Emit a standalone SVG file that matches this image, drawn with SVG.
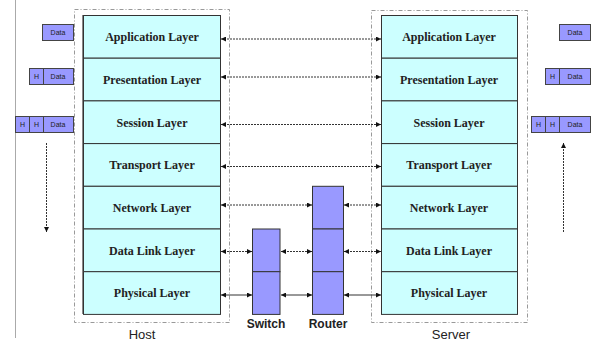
<svg xmlns="http://www.w3.org/2000/svg" width="592" height="343" viewBox="0 0 592 343">
<style>
.layer{fill:#ccffff;stroke:#333;stroke-width:1}
.lt{font-family:"Liberation Serif",serif;font-weight:bold;font-size:12px;fill:#222;text-anchor:middle}
.dev{fill:#9999ff;stroke:#333;stroke-width:1}
.nt{font-family:"Liberation Sans",sans-serif;font-weight:bold;font-size:12px;fill:#222;text-anchor:middle}
.frame{fill:none;stroke:#999;stroke-width:1;stroke-dasharray:4 2 1 2}
.pdu{fill:#9999ff;stroke:#444;stroke-width:1}
.pt{font-family:"Liberation Sans",sans-serif;font-size:7px;fill:#222;text-anchor:middle}
.dot{fill:none;stroke:#333;stroke-width:1;stroke-dasharray:2 1}
.sol{fill:none;stroke:#333;stroke-width:1}
</style>
<defs>
<marker id="ah" viewBox="0 0 6 6" refX="6" refY="3" markerWidth="5" markerHeight="5" orient="auto-start-reverse">
<path d="M0,0 L6,3 L0,6 z" fill="#111"/>
</marker>
</defs>
<rect width="592" height="343" fill="#fff"/>
<line x1="15.5" y1="0" x2="15.5" y2="338" stroke="#aaa" stroke-width="1"/>

<g id="host">
<rect class="frame" x="74.5" y="9.5" width="155" height="313"/>
<rect x="82" y="15" width="2" height="299" fill="#888"/>
<rect class="layer" x="83.5" y="15.5" width="137" height="42.7"/>
<rect class="layer" x="83.5" y="58.2" width="137" height="42.7"/>
<rect class="layer" x="83.5" y="100.9" width="137" height="42.7"/>
<rect class="layer" x="83.5" y="143.6" width="137" height="42.7"/>
<rect class="layer" x="83.5" y="186.3" width="137" height="42.7"/>
<rect class="layer" x="83.5" y="229" width="137" height="42.7"/>
<rect class="layer" x="83.5" y="271.7" width="137" height="42.7"/>
<text class="lt" x="152" y="41">Application Layer</text>
<text class="lt" x="152" y="84">Presentation Layer</text>
<text class="lt" x="152" y="127">Session Layer</text>
<text class="lt" x="152" y="169">Transport Layer</text>
<text class="lt" x="152" y="212">Network Layer</text>
<text class="lt" x="152" y="255">Data Link Layer</text>
<text class="lt" x="152" y="297">Physical Layer</text>
<text class="nt" x="142" y="339" style="font-weight:normal;font-size:13px">Host</text>
</g>

<g id="server">
<rect class="frame" x="371.5" y="10.5" width="156" height="312"/>
<rect class="layer" x="381.5" y="15.5" width="136" height="42.7"/>
<rect class="layer" x="381.5" y="58.2" width="136" height="42.7"/>
<rect class="layer" x="381.5" y="100.9" width="136" height="42.7"/>
<rect class="layer" x="381.5" y="143.6" width="136" height="42.7"/>
<rect class="layer" x="381.5" y="186.3" width="136" height="42.7"/>
<rect class="layer" x="381.5" y="229" width="136" height="42.7"/>
<rect class="layer" x="381.5" y="271.7" width="136" height="42.7"/>
<text class="lt" x="449" y="41">Application Layer</text>
<text class="lt" x="449" y="84">Presentation Layer</text>
<text class="lt" x="449" y="127">Session Layer</text>
<text class="lt" x="449" y="169">Transport Layer</text>
<text class="lt" x="449" y="212">Network Layer</text>
<text class="lt" x="449" y="255">Data Link Layer</text>
<text class="lt" x="449" y="297">Physical Layer</text>
<text class="nt" x="451" y="339" style="font-weight:normal;font-size:13px">Server</text>
</g>

<g id="switch">
<rect class="dev" x="252.5" y="229" width="27.5" height="42.7"/>
<rect class="dev" x="252.5" y="271.7" width="27.5" height="42.7"/>
<text class="nt" x="266" y="328">Switch</text>
</g>

<g id="router">
<rect class="dev" x="312.5" y="186.3" width="31" height="42.7"/>
<rect class="dev" x="312.5" y="229" width="31" height="42.7"/>
<rect class="dev" x="312.5" y="271.7" width="31" height="42.7"/>
<text class="nt" x="328" y="328">Router</text>
</g>

<g id="pdu-left">
<rect class="pdu" x="42.5" y="24.5" width="31" height="16"/>
<text class="pt" x="58" y="35">Data</text>
<rect class="pdu" x="29.5" y="68.5" width="14" height="16"/>
<rect class="pdu" x="43.5" y="68.5" width="30" height="16"/>
<text class="pt" x="36.5" y="79">H</text>
<text class="pt" x="58" y="79">Data</text>
<rect class="pdu" x="15.5" y="116.5" width="14" height="16"/>
<rect class="pdu" x="29.5" y="116.5" width="14" height="16"/>
<rect class="pdu" x="43.5" y="116.5" width="30" height="16"/>
<text class="pt" x="22.5" y="127">H</text>
<text class="pt" x="36.5" y="127">H</text>
<text class="pt" x="58" y="127">Data</text>
</g>

<g id="pdu-right">
<rect class="pdu" x="559.5" y="24.5" width="31" height="16"/>
<text class="pt" x="575" y="35">Data</text>
<rect class="pdu" x="545.5" y="68.5" width="14" height="16"/>
<rect class="pdu" x="559.5" y="68.5" width="31" height="16"/>
<text class="pt" x="552.5" y="79">H</text>
<text class="pt" x="575" y="79">Data</text>
<rect class="pdu" x="531.5" y="116.5" width="14" height="16"/>
<rect class="pdu" x="545.5" y="116.5" width="14" height="16"/>
<rect class="pdu" x="559.5" y="116.5" width="31" height="16"/>
<text class="pt" x="538.5" y="127">H</text>
<text class="pt" x="552.5" y="127">H</text>
<text class="pt" x="575" y="127">Data</text>
</g>

<g id="connectors">
<line class="dot" x1="46.5" y1="143" x2="46.5" y2="232" marker-end="url(#ah)"/>
<line class="dot" x1="563.5" y1="232" x2="563.5" y2="143" marker-end="url(#ah)"/>
<line class="dot" x1="221" y1="39" x2="381" y2="39" marker-start="url(#ah)" marker-end="url(#ah)"/>
<line class="dot" x1="221" y1="77" x2="381" y2="77" marker-start="url(#ah)" marker-end="url(#ah)"/>
<line class="dot" x1="221" y1="124.5" x2="381" y2="124.5" marker-start="url(#ah)" marker-end="url(#ah)"/>
<line class="dot" x1="221" y1="166.5" x2="381" y2="166.5" marker-start="url(#ah)" marker-end="url(#ah)"/>
<line class="dot" x1="221" y1="205" x2="312" y2="205" marker-start="url(#ah)" marker-end="url(#ah)"/>
<line class="dot" x1="344" y1="205" x2="381" y2="205" marker-start="url(#ah)" marker-end="url(#ah)"/>
<line class="dot" x1="221" y1="251.5" x2="252" y2="251.5" marker-start="url(#ah)" marker-end="url(#ah)"/>
<line class="dot" x1="281" y1="251.5" x2="312" y2="251.5" marker-start="url(#ah)" marker-end="url(#ah)"/>
<line class="dot" x1="344" y1="251.5" x2="381" y2="251.5" marker-start="url(#ah)" marker-end="url(#ah)"/>
<line class="sol" x1="221" y1="295" x2="252" y2="295" marker-start="url(#ah)" marker-end="url(#ah)"/>
<line class="sol" x1="281" y1="295" x2="312" y2="295" marker-start="url(#ah)" marker-end="url(#ah)"/>
<line class="sol" x1="344" y1="295" x2="381" y2="295" marker-start="url(#ah)" marker-end="url(#ah)"/>
</g>
</svg>
